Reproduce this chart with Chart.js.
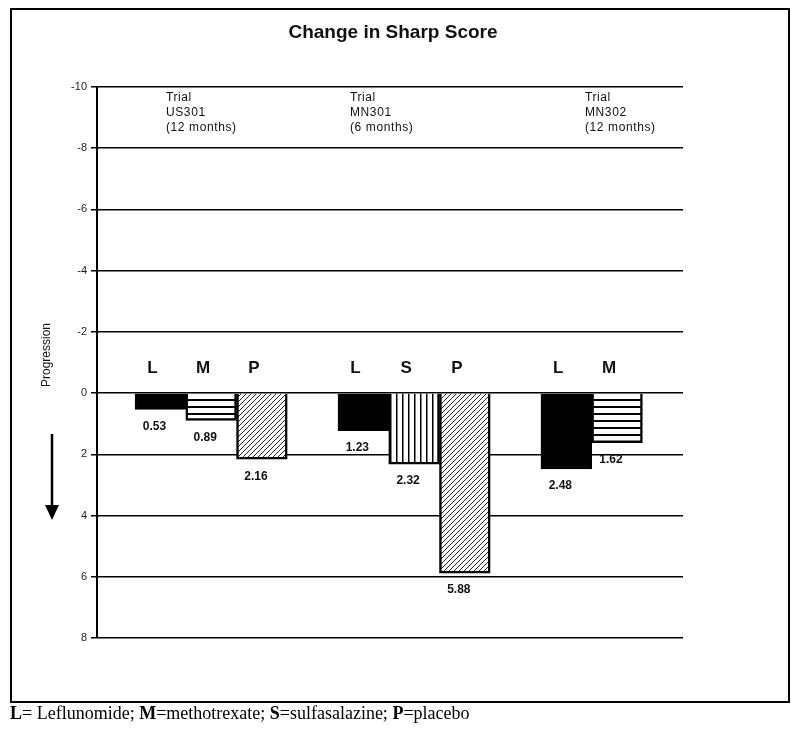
<!DOCTYPE html>
<html>
<head>
<meta charset="utf-8">
<script src="https://cdn.jsdelivr.net/npm/chart.js@4.4.0/dist/chart.umd.min.js"></script>
<style>
body { margin: 0; background: #fff; }
#frame { position: absolute; left: 10px; top: 8px; width: 776px; height: 691px; border: 2px solid #000; }
#wrap { position: absolute; left: 0; top: 0; width: 791px; height: 705px; }
#note { position: absolute; left: 10px; top: 703px; font: 18px "Liberation Serif", "Times New Roman", serif; color: #000; white-space: nowrap; }
</style>
</head>
<body>
<div id="frame"></div>
<div id="wrap"><canvas id="sharp" width="791" height="705"></canvas></div>
<div id="note"><b>L</b>= Leflunomide; <b>M</b>=methotrexate; <b>S</b>=sulfasalazine; <b>P</b>=placebo</div>
<script>
var trials = ['US301', 'MN301', 'MN302'];
var periods = ['(12 months)', '(6 months)', '(12 months)'];
var leflunomide = [0.53, 1.23, 2.48];
var comparator = [0.89, 2.32, 1.62];
var comparatorLetter = ['M', 'S', 'M'];
var placebo = [2.16, 5.88, null];
var yTicks = [-10, -8, -6, -4, -2, 0, 2, 4, 6, 8];

// each trial gets 4 slots: L, M/S, P and an empty gap
function slots(values, offset) {
    var out = [];
    for (var i = 0; i < values.length; i++) {
        if (values[i] !== null) out.push({ x: i * 4 + offset, y: values[i] });
    }
    return out;
}

function makePattern(kind) {
    var c = document.createElement('canvas');
    var g = c.getContext('2d');
    if (kind === 'h') {
        c.width = 8; c.height = 7;
        g.fillStyle = '#fff'; g.fillRect(0, 0, 8, 7);
        g.fillStyle = '#000'; g.fillRect(0, 0, 8, 2);
    } else if (kind === 'v') {
        c.width = 6; c.height = 8;
        g.fillStyle = '#fff'; g.fillRect(0, 0, 6, 8);
        g.fillStyle = '#000'; g.fillRect(0, 0, 1.5, 8);
    } else {
        c.width = 5; c.height = 5;
        g.fillStyle = '#fff'; g.fillRect(0, 0, 5, 5);
        g.strokeStyle = '#222'; g.lineWidth = 1;
        g.beginPath();
        g.moveTo(-1, 6); g.lineTo(6, -1);
        g.moveTo(-1, 1); g.lineTo(1, -1);
        g.moveTo(4, 6); g.lineTo(6, 4);
        g.stroke();
    }
    return g.createPattern(c, 'repeat');
}

var notes = {
    id: 'sharpNotes',
    afterDraw: function(chart) {
        var ctx = chart.ctx;
        ctx.save();
        ctx.fillStyle = '#111';
        ctx.textAlign = 'center';
        ctx.textBaseline = 'middle';
        ctx.font = 'bold 19px Arial, "Liberation Sans", sans-serif';
        ctx.fillText('Change in Sharp Score', 393, 33);

        // trial captions
        var capX = [166, 350, 585];
        ctx.textAlign = 'left';
        ctx.font = '12px Arial, "Liberation Sans", sans-serif';
        ctx.letterSpacing = '0.6px';
        for (var i = 0; i < trials.length; i++) {
            ctx.fillText('Trial', capX[i], 98);
            ctx.fillText(trials[i], capX[i], 113);
            ctx.fillText(periods[i], capX[i], 128);
        }
        ctx.letterSpacing = '0px';

        // letters above and values below each bar
        var letters = [['L', 'L', 'L'], comparatorLetter, ['P', 'P']];
        chart.data.datasets.forEach(function(ds, d) {
            var meta = chart.getDatasetMeta(d);
            meta.data.forEach(function(bar, k) {
                ctx.textAlign = 'center';
                ctx.font = 'bold 17px Arial, "Liberation Sans", sans-serif';
                ctx.fillText(letters[d][k], bar.x - 8, bar.base - 26);
                ctx.font = 'bold 12px Arial, "Liberation Sans", sans-serif';
                ctx.fillText(ds.data[k].y.toFixed(2), bar.x - 6, bar.y + 17);
            });
        });

        // axis caption and arrow
        ctx.save();
        ctx.translate(47, 355);
        ctx.rotate(-Math.PI / 2);
        ctx.textAlign = 'center';
        ctx.font = '12px Arial, "Liberation Sans", sans-serif';
        ctx.fillText('Progression', 0, 0);
        ctx.restore();
        ctx.strokeStyle = '#000';
        ctx.lineWidth = 2.5;
        ctx.beginPath();
        ctx.moveTo(52, 434);
        ctx.lineTo(52, 508);
        ctx.stroke();
        ctx.fillStyle = '#000';
        ctx.beginPath();
        ctx.moveTo(45, 505);
        ctx.lineTo(59, 505);
        ctx.lineTo(52, 520);
        ctx.closePath();
        ctx.fill();
        ctx.restore();
    }
};

var barStyle = { grouped: false, categoryPercentage: 1, barPercentage: 1, borderColor: '#000', borderWidth: 2.5 };

var ctx = document.getElementById('sharp');
var sharpChart = new Chart(ctx, {
    type: 'bar',
    data: {
        datasets: [
            Object.assign({ label: 'Leflunomide', data: slots(leflunomide, 0), backgroundColor: '#000' }, barStyle),
            Object.assign({ label: 'Comparator', data: slots(comparator, 1), backgroundColor: comparatorLetter.map(function(l) { return makePattern(l === 'S' ? 'v' : 'h'); }) }, barStyle),
            Object.assign({ label: 'Placebo', data: slots(placebo, 2), backgroundColor: makePattern('d') }, barStyle)
        ]
    },
    options: {
        responsive: false,
        animation: false,
        devicePixelRatio: 1,
        layout: { padding: { top: 87, right: 108, bottom: 67, left: 0 } },
        plugins: { legend: { display: false }, tooltip: { enabled: false }, title: { display: false } },
        scales: {
            x: { type: 'linear', min: -1.25, max: 10.3, offset: false, display: false },
            y: {
                min: -10,
                max: 8,
                reverse: true,
                afterFit: function(s) { s.width = 97; },
                afterBuildTicks: function(s) { s.ticks = yTicks.map(function(v) { return { value: v }; }); },
                ticks: { color: '#222', padding: 4, font: { family: 'Arial', size: 11 } },
                grid: { color: '#000', lineWidth: 1.5, tickLength: 6 },
                border: { color: '#000', width: 2 }
            }
        }
    },
    plugins: [notes]
});
</script>
</body>
</html>
